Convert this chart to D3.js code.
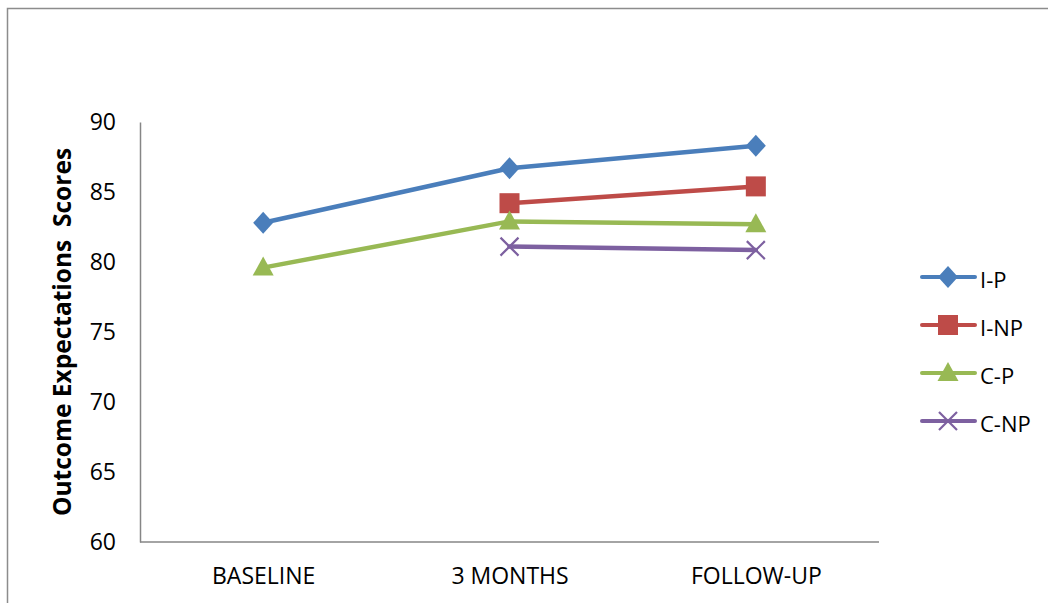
<!DOCTYPE html>
<html><head><meta charset="utf-8">
<script src="https://cdn.jsdelivr.net/npm/d3@7"></script>
<style>html,body{margin:0;padding:0;background:#fff;}svg{display:block;}</style>
</head><body>
<svg id="chart" width="1048" height="603"></svg>
<script>
const categories = ["BASELINE", "3 MONTHS", "FOLLOW-UP"];
const seriesNames = ["I-P", "I-NP", "C-P", "C-NP"];
const valuesIP  = [82.8, 86.7, 88.3];
const valuesINP = [null, 84.2, 85.4];
const valuesCP  = [79.6, 82.9, 82.7];
const valuesCNP = [null, 81.1, 80.85];
const yTicks = [60, 65, 70, 75, 80, 85, 90];
const yTitle = "Outcome Expectations  Scores";

const colors = ["#4A7EBB", "#BE4B48", "#98B954", "#7D60A0"];
const shapes = ["diamond", "square", "triangle", "x"];
const allValues = [valuesIP, valuesINP, valuesCP, valuesCNP];
const series = seriesNames.map((n, i) => ({name: n, values: allValues[i], color: colors[i], shape: shapes[i]}));

const svg = d3.select("#chart");
const font = "'Open Sans', sans-serif";

// outer frame
svg.append("rect").attr("x", 7.5).attr("y", 8.5).attr("width", 1100).attr("height", 700)
  .attr("fill", "none").attr("stroke", "#8c8c8c").attr("stroke-width", 1.5);

const x = d3.scalePoint().domain(categories).range([140, 879]).padding(0.5);
const y = d3.scaleLinear().domain([60, 90]).range([542, 122]);

// axes
const yAxis = svg.append("g").attr("transform", "translate(140,0)")
  .call(d3.axisLeft(y).tickValues(yTicks).tickSize(0).tickPadding(24));
yAxis.select(".domain").attr("stroke", "#868686").attr("stroke-width", 1.5);
yAxis.selectAll("text").attr("font-family", font).attr("font-size", 23).attr("fill", "#000");

const xAxis = svg.append("g").attr("transform", "translate(0,542)")
  .call(d3.axisBottom(x).tickSize(0).tickPadding(26));
xAxis.select(".domain").attr("stroke", "#868686").attr("stroke-width", 1.5).attr("d", "M140,0H879");
xAxis.selectAll("text").attr("font-family", font).attr("font-size", 23).attr("fill", "#000");

// y title
svg.append("text").attr("transform", "translate(71,332) rotate(-90)")
  .attr("text-anchor", "middle").attr("font-family", font).attr("font-weight", "bold")
  .attr("font-size", 24.5).attr("fill", "#000").attr("xml:space", "preserve").text(yTitle);

function drawMarker(g, shape, color) {
  if (shape === "diamond") {
    g.append("path").attr("d", "M0,-11L10,0L0,11L-10,0Z").attr("fill", color);
  } else if (shape === "square") {
    g.append("rect").attr("x", -10).attr("y", -10).attr("width", 20).attr("height", 20).attr("fill", color);
  } else if (shape === "triangle") {
    g.append("path").attr("d", "M0,-11L10.5,8L-10.5,8Z").attr("fill", color);
  } else {
    g.append("path").attr("d", "M-9,-9L9,9M-9,9L9,-9").attr("stroke", color).attr("stroke-width", 2.2).attr("fill", "none");
  }
}

const line = d3.line().defined(d => d.v !== null).x(d => x(d.c)).y(d => y(d.v));

series.forEach(s => {
  const pts = categories.map((c, i) => ({c, v: s.values[i]}));
  svg.append("path").datum(pts).attr("d", line).attr("fill", "none")
    .attr("stroke", s.color).attr("stroke-width", 4.5).attr("stroke-linejoin", "round").attr("stroke-linecap", "round");
  pts.filter(p => p.v !== null).forEach(p => {
    const g = svg.append("g").attr("transform", `translate(${x(p.c)},${y(p.v)})`);
    drawMarker(g, s.shape, s.color);
  });
});

// legend
const legend = svg.append("g");
series.forEach((s, i) => {
  const ly = 277 + i * 48;
  legend.append("line").attr("x1", 922).attr("x2", 975).attr("y1", ly).attr("y2", ly)
    .attr("stroke", s.color).attr("stroke-width", 4).attr("stroke-linecap", "round");
  const g = legend.append("g").attr("transform", `translate(948,${ly})`);
  drawMarker(g, s.shape, s.color);
  legend.append("text").attr("x", 980).attr("y", ly + 11)
    .attr("font-family", font).attr("font-size", 22).attr("fill", "#000").text(s.name);
});
</script>
</body></html>
